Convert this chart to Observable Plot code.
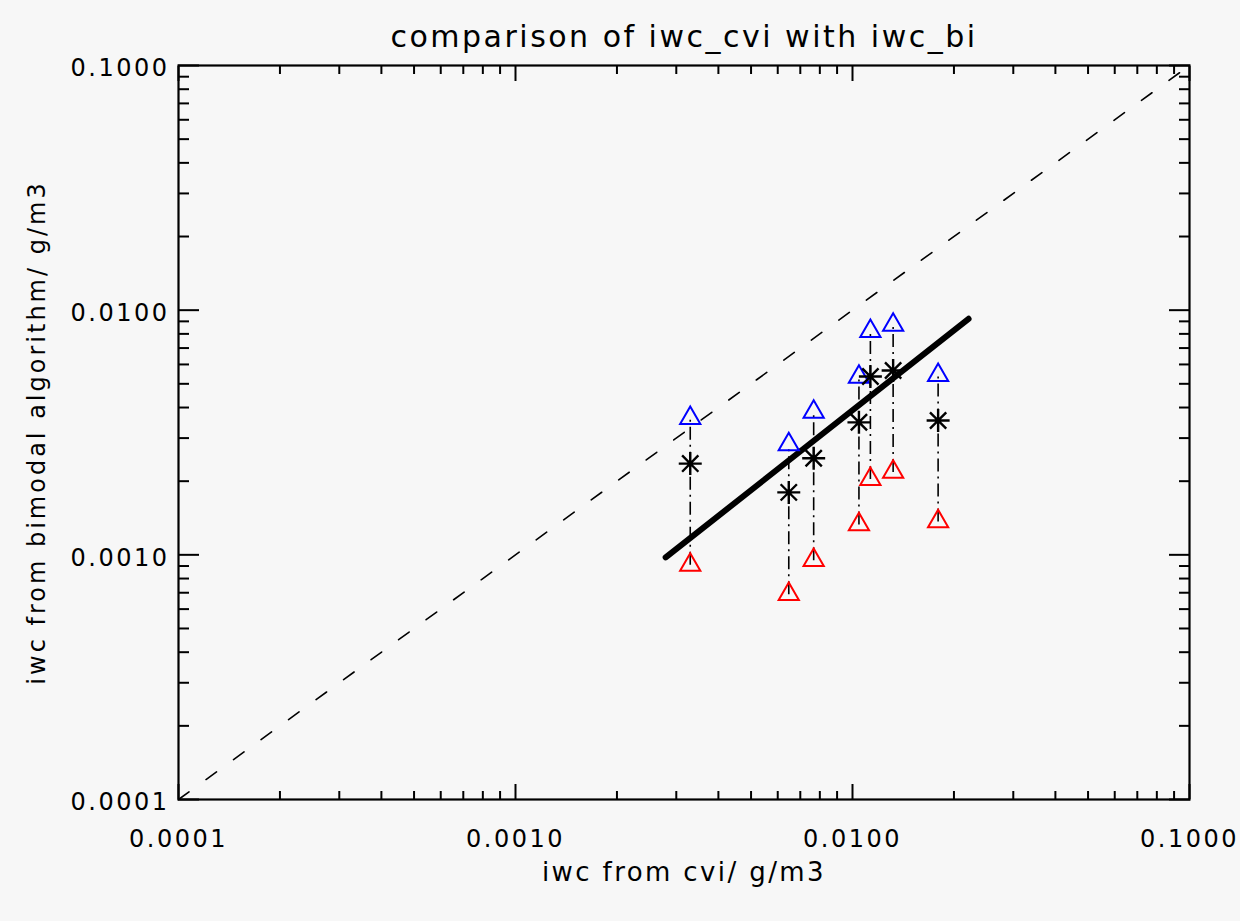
<!DOCTYPE html>
<html>
<head>
<meta charset="utf-8">
<script src="https://cdn.jsdelivr.net/npm/d3@7"></script>
<script src="https://cdn.jsdelivr.net/npm/@observablehq/plot@0.6"></script>
<style>
  html, body { margin: 0; padding: 0; background: #f7f7f7; }
  #chart svg { display: block; }
</style>
</head>
<body>
<div id="chart"></div>
<script>
// ---- texts ----
const title = "comparison of iwc_cvi with iwc_bi";
const xLabel = "iwc from cvi/ g/m3";
const yLabel = "iwc from bimodal algorithm/ g/m3";

// ---- data (g/m3) ----
const iwcCvi    = [0.0033, 0.00647, 0.00767, 0.01045, 0.0113, 0.0132, 0.01795];
const iwcBiHigh = [0.00362, 0.00283, 0.00384, 0.00533, 0.0082, 0.0087, 0.00543];
const iwcBiMean = [0.00236, 0.0018, 0.00248, 0.00348, 0.00536, 0.00567, 0.00354];
const iwcBiLow  = [0.00091, 0.00069, 0.00095, 0.00133, 0.00204, 0.00218, 0.00137];

const fitX = [0.00279, 0.0221];
const fitY = [0.000976, 0.00922];
const oneToOne = [0.0001, 0.1];

// ---- ticks ----
const majorTicks = [0.0001, 0.001, 0.01, 0.1];
const majorTickLabels = ["0.0001", "0.0010", "0.0100", "0.1000"];
const minorTicks = [
  0.0002, 0.0003, 0.0004, 0.0005, 0.0006, 0.0007, 0.0008, 0.0009,
  0.002, 0.003, 0.004, 0.005, 0.006, 0.007, 0.008, 0.009,
  0.02, 0.03, 0.04, 0.05, 0.06, 0.07, 0.08, 0.09
];

const rows = iwcCvi.map((x, i) => ({x, high: iwcBiHigh[i], mean: iwcBiMean[i], low: iwcBiLow[i]}));
const fitRows = fitX.map((x, i) => ({x, y: fitY[i]}));
const diagRows = oneToOne.map(v => ({x: v, y: v}));

const fmt = d => majorTickLabels[majorTicks.findIndex(t => Math.abs(t - d) / t < 1e-6)];
const blank = () => "";

// 8-armed asterisk like IDL psym=2
const asterisk = {
  draw(ctx, size) {
    const r = Math.sqrt(size / Math.PI);
    for (let k = 0; k < 4; k++) {
      const a = k * Math.PI / 4;
      const c = Math.cos(a) * r, s = Math.sin(a) * r;
      ctx.moveTo(c, s);
      ctx.lineTo(-c, -s);
    }
  }
};

const tickStyle = {stroke: "black", strokeWidth: 2, label: null, tickFormat: blank};

const chart = Plot.plot({
  width: 1240,
  height: 921,
  marginLeft: 178,
  marginRight: 51,
  marginTop: 65,
  marginBottom: 122,
  style: {background: "#f7f7f7", fontFamily: "DejaVu Sans", color: "black"},
  x: {type: "log", domain: [0.0001, 0.1], axis: null},
  y: {type: "log", domain: [0.0001, 0.1], axis: null},
  marks: [
    // one-to-one dashed line
    Plot.line(diagRows, {x: "x", y: "y", stroke: "black", strokeWidth: 1.6, strokeDasharray: "13,21"}),
    // vertical dash-dot ranges
    Plot.link(rows, {x1: "x", x2: "x", y1: "low", y2: "high", stroke: "black", strokeWidth: 1.6, strokeDasharray: "13,5,2,5"}),
    // fit line
    Plot.line(fitRows, {x: "x", y: "y", stroke: "black", strokeWidth: 6}),
    // markers
    Plot.dot(rows, {x: "x", y: "high", symbol: "triangle", r: 7.5, stroke: "#0000ff", strokeWidth: 2, fill: "none"}),
    Plot.dot(rows, {x: "x", y: "low", symbol: "triangle", r: 7.5, stroke: "#ff0000", strokeWidth: 2, fill: "none"}),
    Plot.dot(rows, {x: "x", y: "mean", symbol: asterisk, r: 11.5, stroke: "black", strokeWidth: 2.4}),
    // inward ticks
    Plot.axisX({anchor: "bottom", ticks: minorTicks, tickSize: -8, ...tickStyle}),
    Plot.axisX({anchor: "bottom", ticks: majorTicks, tickSize: -15, ...tickStyle}),
    Plot.axisX({anchor: "top", ticks: minorTicks, tickSize: -8, ...tickStyle}),
    Plot.axisX({anchor: "top", ticks: majorTicks, tickSize: -15, ...tickStyle}),
    Plot.axisY({anchor: "left", ticks: minorTicks, tickSize: -11, ...tickStyle}),
    Plot.axisY({anchor: "left", ticks: majorTicks, tickSize: -21, ...tickStyle}),
    Plot.axisY({anchor: "right", ticks: minorTicks, tickSize: -11, ...tickStyle}),
    Plot.axisY({anchor: "right", ticks: majorTicks, tickSize: -21, ...tickStyle}),
    // tick labels
    Plot.axisX({anchor: "bottom", ticks: majorTicks, tickSize: 0, tickPadding: 30, tickFormat: fmt, fontSize: 24, label: null, fill: "black"}),
    Plot.axisY({anchor: "left", ticks: majorTicks, tickSize: 0, tickPadding: 9, tickFormat: fmt, fontSize: 24, label: null, fill: "black", dy: 3}),
    // frame
    Plot.frame({stroke: "black", strokeWidth: 2.2}),
    // title and axis titles
    Plot.text([title], {frameAnchor: "top", dy: -28, fontSize: 30, lineAnchor: "middle", textAnchor: "middle", fill: "black"}),
    Plot.text([xLabel], {frameAnchor: "bottom", dy: 73, fontSize: 26, lineAnchor: "middle", textAnchor: "middle", fill: "black"}),
    Plot.text([yLabel], {frameAnchor: "left", dx: -141, rotate: -90, fontSize: 24, lineAnchor: "middle", textAnchor: "middle", fill: "black"})
  ]
});

// letter spacing to approximate the wide Hershey font
const tickLabelSet = new Set(majorTickLabels);
d3.select(chart).selectAll("text").each(function() {
  const t = this.textContent;
  if (t === title) this.setAttribute("letter-spacing", "2.5");
  else if (t === xLabel) this.setAttribute("letter-spacing", "2.4");
  else if (t === yLabel) this.setAttribute("letter-spacing", "3");
  else if (tickLabelSet.has(t)) this.setAttribute("letter-spacing", "2.5");
});

document.getElementById("chart").appendChild(chart);
</script>
</body>
</html>
